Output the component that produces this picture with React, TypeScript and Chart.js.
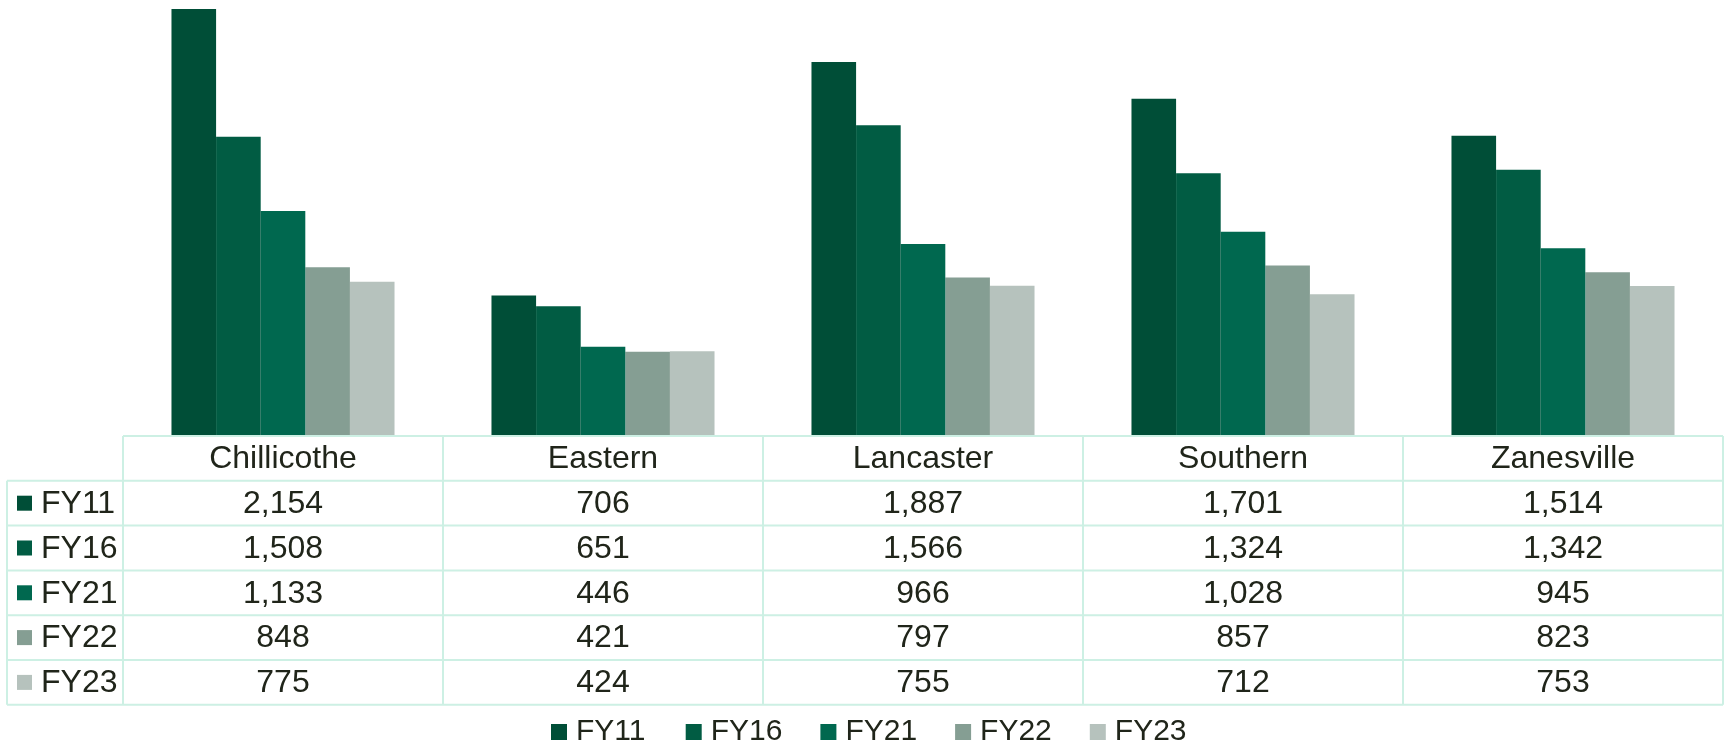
import React, { useEffect, useRef } from "react";
import { Chart, registerables } from "chart.js";

Chart.register(...registerables);

const categories = ["Chillicothe", "Eastern", "Lancaster", "Southern", "Zanesville"];
const seriesLabels = ["FY11", "FY16", "FY21", "FY22", "FY23"];
const fy11 = [2154, 706, 1887, 1701, 1514];
const fy16 = [1508, 651, 1566, 1324, 1342];
const fy21 = [1133, 446, 966, 1028, 945];
const fy22 = [848, 421, 797, 857, 823];
const fy23 = [775, 424, 755, 712, 753];
const seriesColors = ["#004e37", "#015c43", "#00684f", "#859e93", "#b6c2bd"];

const W = 1726;
const H = 749;
const FONT = '"Liberation Sans", Arial, sans-serif';
const TEXT = "#20251a";
const GRID = "#cdf0e4";

const tablePlugin = {
  id: "dataTable",
  afterDraw(chart: any) {
    const ctx = chart.ctx as CanvasRenderingContext2D;
    const area = chart.chartArea;
    const n = categories.length;
    const colW = (area.right - area.left) / n;
    const top = area.bottom + 1;
    const rowH = 44.8;
    const legendLeft = 7;
    const bottom = top + rowH * 6;
    ctx.save();
    ctx.strokeStyle = GRID;
    ctx.lineWidth = 2;
    ctx.beginPath();
    ctx.moveTo(area.left, top);
    ctx.lineTo(area.right, top);
    for (let r = 1; r <= 6; r++) {
      const y = top + rowH * r;
      ctx.moveTo(legendLeft, y);
      ctx.lineTo(area.right, y);
    }
    ctx.moveTo(legendLeft, top + rowH);
    ctx.lineTo(legendLeft, bottom);
    for (let c = 0; c <= n; c++) {
      const x = area.left + colW * c;
      ctx.moveTo(x, top);
      ctx.lineTo(x, bottom);
    }
    ctx.stroke();

    ctx.fillStyle = TEXT;
    ctx.font = `32px ${FONT}`;
    ctx.textAlign = "center";
    ctx.textBaseline = "middle";
    const xs = chart.scales.x;
    categories.forEach((cat, i) => {
      const cx = xs.getPixelForValue(i);
      ctx.fillText(cat, cx, top + rowH / 2 + 1);
    });
    chart.data.datasets.forEach((ds: any, r: number) => {
      const cy = top + rowH * (r + 1) + rowH / 2 + 1;
      ctx.fillStyle = ds.backgroundColor;
      ctx.fillRect(17, cy - 8.5, 15, 15);
      ctx.fillStyle = TEXT;
      ctx.textAlign = "left";
      ctx.fillText(ds.label, 41, cy);
      ctx.textAlign = "center";
      ds.data.forEach((v: number, i: number) => {
        const cx = xs.getPixelForValue(i);
        ctx.fillText(v.toLocaleString("en-US"), cx, cy);
      });
    });

    // bottom legend
    const ly = 732;
    const startX = 551;
    const step = 134.7;
    ctx.font = `30px ${FONT}`;
    ctx.textAlign = "left";
    ctx.textBaseline = "middle";
    chart.data.datasets.forEach((ds: any, r: number) => {
      const bx = startX + step * r;
      ctx.fillStyle = ds.backgroundColor;
      ctx.fillRect(bx, ly - 8, 16, 16);
      ctx.fillStyle = TEXT;
      ctx.fillText(ds.label, bx + 25, ly);
    });
    ctx.restore();
  },
};

export default function App() {
  const ref = useRef<HTMLCanvasElement>(null);
  useEffect(() => {
    if (!ref.current) return;
    const series = [fy11, fy16, fy21, fy22, fy23];
    const chart = new Chart(ref.current, {
      type: "bar",
      data: {
        labels: categories,
        datasets: series.map((d, i) => ({
          label: seriesLabels[i],
          data: d,
          backgroundColor: seriesColors[i],
          borderWidth: 0,
          categoryPercentage: 0.697,
          barPercentage: 1,
        })),
      },
      options: {
        animation: false,
        responsive: false,
        devicePixelRatio: 1,
        layout: { padding: { left: 123, right: 3, top: 0, bottom: 314 } },
        plugins: { legend: { display: false }, tooltip: { enabled: false } },
        scales: {
          x: { display: false, grid: { display: false } },
          y: { display: false, min: 0, max: 2200, grid: { display: false } },
        },
      },
      plugins: [tablePlugin],
    });
    return () => chart.destroy();
  }, []);
  return (
    <div style={{ position: "absolute", left: 0, top: 0, width: W, height: H, background: "#fff" }}>
      <canvas ref={ref} width={W} height={H} style={{ display: "block" }} />
    </div>
  );
}
